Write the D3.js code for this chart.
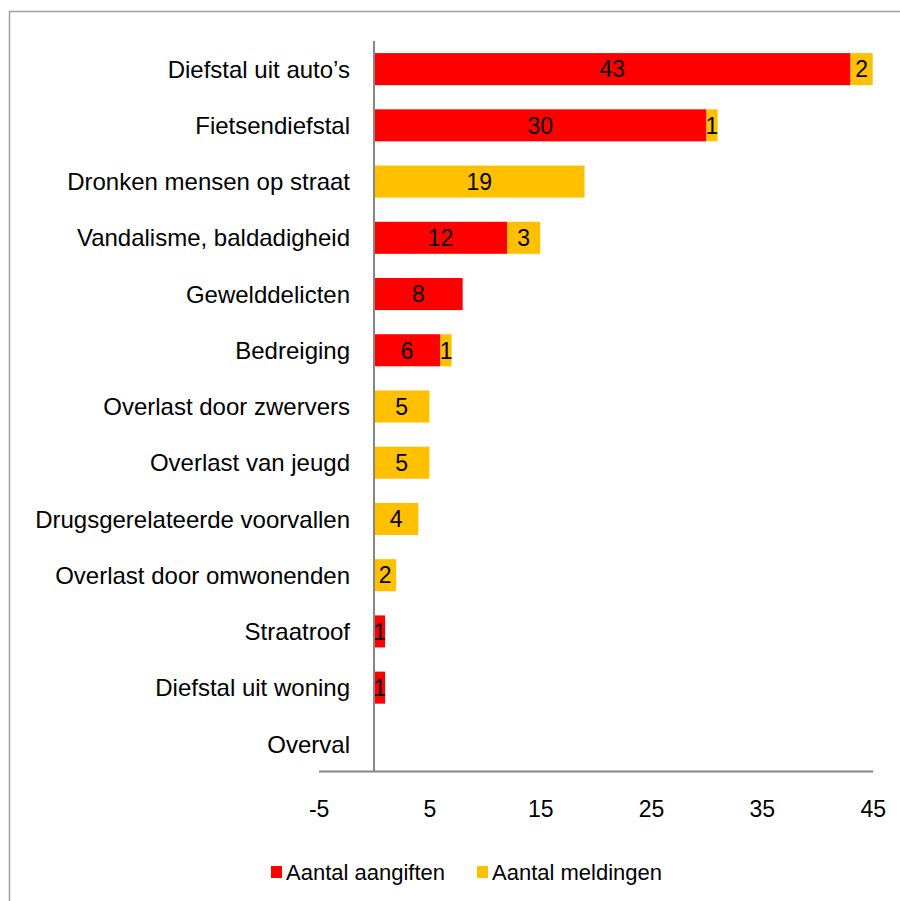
<!DOCTYPE html>
<html>
<head>
<meta charset="utf-8">
<script src="https://cdn.jsdelivr.net/npm/d3@7"></script>
<style>
  body { margin: 0; background: #fff; }
  svg text { font-family: "Liberation Sans", Arial, sans-serif; fill: #000; }
</style>
</head>
<body>
<svg id="chart" width="900" height="901"></svg>
<script>
// categories, top to bottom
const categories = [
    "Diefstal uit auto\u2019s", "Fietsendiefstal", "Dronken mensen op straat",
    "Vandalisme, baldadigheid", "Gewelddelicten", "Bedreiging",
    "Overlast door zwervers", "Overlast van jeugd", "Drugsgerelateerde voorvallen",
    "Overlast door omwonenden", "Straatroof", "Diefstal uit woning", "Overval"
];
const aangiften = [43, 30, 0, 12, 8, 6, 0, 0, 0, 0, 1, 1, 0];
const meldingen = [2, 1, 19, 3, 0, 1, 5, 5, 4, 2, 0, 0, 0];
const seriesNames = ["Aantal aangiften", "Aantal meldingen"];
const tickValues = [-5, 5, 15, 25, 35, 45];

const colors = ["#ff0000", "#ffc000"];

const svg = d3.select("#chart");

// outer frame
svg.append("rect")
    .attr("x", 9.5).attr("y", 11.5)
    .attr("width", 900).attr("height", 900)
    .attr("fill", "none")
    .attr("stroke", "#a0a0a0")
    .attr("stroke-width", 1.5);

const x = d3.scaleLinear().domain([-5, 45]).range([318.6, 872.7]);
const y = d3.scaleBand().domain(categories).range([41, 772]).paddingInner(0.43).paddingOuter(0.215);

// stack the two series
const rows = categories.map((c, i) => ({ cat: c, a: aangiften[i], m: meldingen[i] }));
const stack = d3.stack().keys(["a", "m"])(rows);

const layer = svg.selectAll("g.layer")
    .data(stack)
    .enter().append("g")
    .attr("class", "layer")
    .attr("fill", (d, i) => colors[i]);

layer.selectAll("rect")
    .data(d => d)
    .enter().append("rect")
    .attr("x", d => x(d[0]))
    .attr("y", d => y(d.data.cat))
    .attr("width", d => x(d[1]) - x(d[0]))
    .attr("height", y.bandwidth());

// value labels in the middle of each segment
layer.selectAll("text")
    .data(d => d.filter(s => s[1] - s[0] > 0))
    .enter().append("text")
    .attr("x", d => (x(d[0]) + x(d[1])) / 2)
    .attr("y", d => y(d.data.cat) + y.bandwidth() / 2)
    .attr("dy", "0.36em")
    .attr("text-anchor", "middle")
    .style("font-size", "23px")
    .text(d => d[1] - d[0]);

// category labels
svg.append("g").selectAll("text")
    .data(categories)
    .enter().append("text")
    .attr("x", 350)
    .attr("y", d => y(d) + y.bandwidth() / 2)
    .attr("dy", "0.36em")
    .attr("text-anchor", "end")
    .style("font-size", "24px")
    .text(d => d);

// axes lines
svg.append("line")
    .attr("x1", x(0)).attr("x2", x(0))
    .attr("y1", 41).attr("y2", 771)
    .attr("stroke", "#868686").attr("stroke-width", 2);

const xAxis = d3.axisBottom(x).tickValues(tickValues).tickSize(0).tickPadding(30)
    .tickFormat(d => String(d));
const gx = svg.append("g").attr("transform", "translate(0,771)").call(xAxis);
gx.select(".domain").attr("stroke", "#868686").attr("stroke-width", 2);
gx.selectAll("text")
    .style("font-family", "'Liberation Sans', Arial, sans-serif")
    .style("font-size", "23px")
    .attr("fill", "#000");

// legend
const legend = svg.append("g");
const legendX = [271, 477];
seriesNames.forEach((n, i) => {
    legend.append("rect")
        .attr("x", legendX[i]).attr("y", 866)
        .attr("width", 11).attr("height", 12)
        .attr("fill", colors[i]);
    legend.append("text")
        .attr("x", legendX[i] + 15).attr("y", 872)
        .attr("dy", "0.36em")
        .style("font-size", "22px")
        .text(n);
});
</script>
</body>
</html>
